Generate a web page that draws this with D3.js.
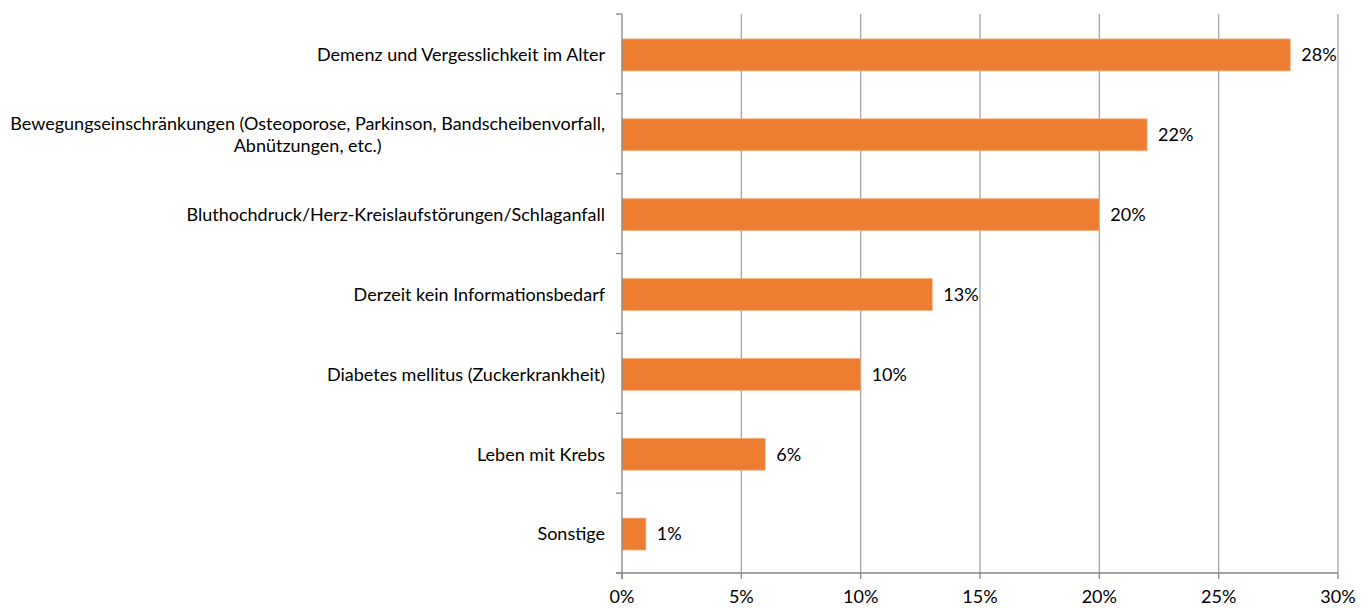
<!DOCTYPE html>
<html><head><meta charset="utf-8">
<script src="https://cdn.jsdelivr.net/npm/d3@7"></script>
<style>body{margin:0;background:#fff}svg{display:block}text{font-family:Lato,"Open Sans",sans-serif;fill:#000}</style>
</head><body><svg id="c" width="1371" height="608"></svg>
<script>
const categories = [
  ["Demenz und Vergesslichkeit im Alter"],
  ["Bewegungseinschränkungen (Osteoporose, Parkinson, Bandscheibenvorfall,", "Abnützungen, etc.)"],
  ["Bluthochdruck/Herz-Kreislaufstörungen/Schlaganfall"],
  ["Derzeit kein Informationsbedarf"],
  ["Diabetes mellitus (Zuckerkrankheit)"],
  ["Leben mit Krebs "],
  ["Sonstige"]
];
const values = [28, 22, 20, 13, 10, 6, 1];
const tickValues = [0, 5, 10, 15, 20, 25, 30];

const svg = d3.select("#c");
const x = d3.scaleLinear().domain([0, 30]).range([622, 1338]);
const y = d3.scaleBand().domain(d3.range(categories.length)).range([14, 573]).paddingInner(0.6).paddingOuter(0.3);
const yb = d3.scaleBand().domain(d3.range(categories.length)).range([14, 573]);
const fs = 18;

// gridlines
svg.append("g").selectAll("line").data(tickValues.slice(1)).join("line")
  .attr("x1", d => x(d)).attr("x2", d => x(d)).attr("y1", 14).attr("y2", 573)
  .attr("stroke", "#A6A6A6").attr("stroke-width", 1.3);

// bars
svg.append("g").selectAll("rect").data(values).join("rect")
  .attr("x", x(0)).attr("y", (d, i) => y(i) + 1).attr("width", d => x(d) - x(0)).attr("height", y.bandwidth())
  .attr("fill", "#ED7D31").attr("stroke", "#F4B183").attr("stroke-width", 0.8);

// value labels
svg.append("g").selectAll("text").data(values).join("text")
  .attr("x", d => x(d) + 11).attr("y", (d, i) => y(i) + 1 + y.bandwidth() / 2).attr("dy", "0.35em")
  .attr("font-size", fs).text(d => d + "%");

// y axis line and ticks
svg.append("line").attr("x1", 622).attr("x2", 622).attr("y1", 14).attr("y2", 579).attr("stroke", "#868686").attr("stroke-width", 1.3);
const yTicks = d3.range(categories.length + 1).map(i => i < categories.length ? yb(i) : 573);
svg.append("g").selectAll("line").data(yTicks).join("line")
  .attr("x1", 616).attr("x2", 622).attr("y1", d => d).attr("y2", d => d).attr("stroke", "#868686").attr("stroke-width", 1.3);

// x axis line and ticks
svg.append("line").attr("x1", 616).attr("x2", 1338).attr("y1", 573).attr("y2", 573).attr("stroke", "#868686").attr("stroke-width", 1.3);
svg.append("g").selectAll("line").data(tickValues).join("line")
  .attr("x1", d => x(d)).attr("x2", d => x(d)).attr("y1", 573).attr("y2", 579).attr("stroke", "#868686").attr("stroke-width", 1.3);
svg.append("g").selectAll("text").data(tickValues).join("text")
  .attr("x", d => x(d)).attr("y", 597).attr("dy", "0.35em").attr("text-anchor", "middle")
  .attr("font-size", fs).text(d => d + "%");

// category labels
const lh = 22;
categories.forEach((lines, i) => {
  const cy = yb(i) + yb.bandwidth() / 2 + 1;
  const g = svg.append("g");
  const texts = lines.map((l, j) => g.append("text").attr("font-size", fs).attr("dy", "0.35em")
    .attr("y", cy + (j - (lines.length - 1) / 2) * lh).text(l));
  const w = d3.max(texts, t => t.node().getComputedTextLength());
  texts.forEach(t => t.attr("text-anchor", "middle").attr("x", 605 - w / 2));
});
</script></body></html>
